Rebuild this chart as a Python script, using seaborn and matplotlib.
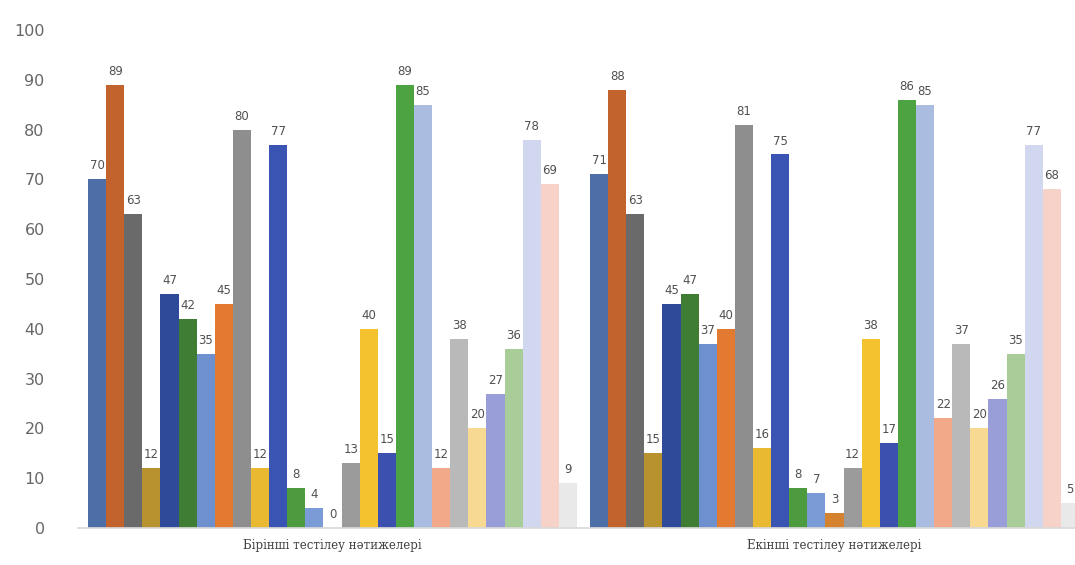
import numpy as np
import pandas as pd
import matplotlib
matplotlib.use("Agg")
import matplotlib.pyplot as plt
import seaborn as sns

groups = ["Бірінші тестілеу нәтижелері", "Екінші тестілеу нәтижелері"]
series = [f"Көрсеткіш {i}" for i in range(1, 28)]
first_test = [70, 89, 63, 12, 47, 42, 35, 45, 80, 12, 77, 8, 4, 0,
              13, 40, 15, 89, 85, 12, 38, 20, 27, 36, 78, 69, 9]
second_test = [71, 88, 63, 15, 45, 47, 37, 40, 81, 16, 75, 8, 7, 3,
               12, 38, 17, 86, 85, 22, 37, 20, 26, 35, 77, 68, 5]
colors = ["#4E6EA8", "#C2622C", "#6A6A6A", "#B8922E", "#2F4A98", "#3F7D34",
          "#6E90CF", "#E27B31", "#8E8E8E", "#E9B931", "#3A54B4", "#4C9B3E",
          "#7B9BD6", "#D4822F", "#9B9B9B", "#F3C22E", "#3B50AF", "#4DA242",
          "#AABDE0", "#F1A98A", "#B9B9B9", "#F8D991", "#9A9ED8", "#A9CD99",
          "#D1D7EF", "#F7D2C9", "#E9E9E9"]

df = pd.DataFrame({
    "group": [groups[0]] * len(series) + [groups[1]] * len(series),
    "series": series + series,
    "value": first_test + second_test,
})

sns.set_theme(style="white")
plt.rcParams["font.family"] = ["DejaVu Sans"]

fig = plt.figure(figsize=(10.75, 5.65), dpi=100)
ax = fig.add_axes([78 / 1075, 37 / 565, 1 - 78 / 1075, (528 - 30) / 565])

sns.barplot(data=df, x="group", y="value", hue="series", hue_order=series,
            order=groups, palette=colors, width=0.974, gap=0, dodge=True,
            saturation=1, legend=False, ax=ax, errorbar=None, linewidth=0)

for cont in ax.containers:
    ax.bar_label(cont, fmt="%g", padding=5, fontsize=8.5, color="#505050")

ax.set_ylim(0, 100)
ax.set_xlim(-0.507, 1.479)
ax.set_yticks(np.arange(0, 101, 10))
ax.tick_params(axis="y", labelsize=11.5, labelcolor="#666666", length=0, pad=24)
ax.tick_params(axis="x", length=0, pad=8)
for lbl in ax.get_xticklabels():
    lbl.set_fontfamily("DejaVu Serif")
    lbl.set_fontsize(8.5)
    lbl.set_color("#404040")
ax.set_xlabel("")
ax.set_ylabel("")
for s in ["top", "right", "left"]:
    ax.spines[s].set_visible(False)
ax.spines["bottom"].set_color("#D9D9D9")
ax.set_facecolor("white")
fig.patch.set_facecolor("white")

fig.savefig("out.png", dpi=100)
